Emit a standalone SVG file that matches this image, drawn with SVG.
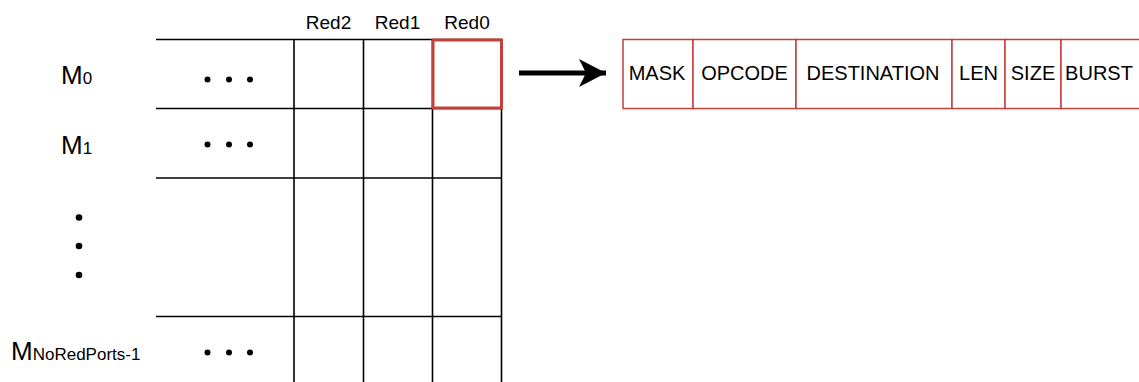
<svg xmlns="http://www.w3.org/2000/svg" width="1139" height="382" viewBox="0 0 1139 382">
  <style>
    text { font-family: "Liberation Sans", Arial, Helvetica, sans-serif; fill: #000; }
    .grid { stroke: #000; stroke-width: 1.6; fill: none; }
    .hdr { font-size: 19px; text-anchor: middle; }
    .row { font-size: 26px; }
    .sub { font-size: 17px; }
    .fld { font-size: 20px; text-anchor: middle; }
    .rec { fill: #fff; stroke: #c4403b; stroke-width: 1.5; }
    .dot { fill: #000; }
  </style>
  <defs>
    <marker id="arrowhead" viewBox="0 0 30 30" refX="27" refY="14" markerWidth="30" markerHeight="30" markerUnits="userSpaceOnUse" orient="auto">
      <path d="M0,0 L27,14 L0,28 L7,14 Z" fill="#000"/>
    </marker>
  </defs>

  <!-- column headers -->
  <g id="headers">
    <text class="hdr" x="328.5" y="29">Red2</text>
    <text class="hdr" x="397.5" y="29">Red1</text>
    <text class="hdr" x="467" y="29">Red0</text>
  </g>

  <!-- row labels -->
  <g id="row-labels">
    <text class="row" x="61" y="83.5">M<tspan class="sub">0</tspan></text>
    <text class="row" x="61" y="153.5">M<tspan class="sub">1</tspan></text>
    <text class="row" x="11" y="359.5">M<tspan class="sub">NoRedPorts-1</tspan></text>
  </g>

  <!-- matrix grid -->
  <g id="matrix">
    <line class="grid" x1="156" y1="39.5" x2="502" y2="39.5"/>
    <line class="grid" x1="156" y1="108.5" x2="502" y2="108.5"/>
    <line class="grid" x1="156" y1="178" x2="502" y2="178"/>
    <line class="grid" x1="156" y1="316.5" x2="502" y2="316.5"/>
    <line class="grid" x1="294" y1="39.5" x2="294" y2="382"/>
    <line class="grid" x1="363.5" y1="39.5" x2="363.5" y2="382"/>
    <line class="grid" x1="432.5" y1="39.5" x2="432.5" y2="382"/>
    <line class="grid" x1="501.5" y1="39.5" x2="501.5" y2="382"/>
  </g>

  <!-- ellipsis markers -->
  <g id="ellipses">
    <circle class="dot" cx="207.5" cy="79.5" r="3"/>
    <circle class="dot" cx="229" cy="79.5" r="3"/>
    <circle class="dot" cx="250" cy="79.5" r="3"/>
    <circle class="dot" cx="207.5" cy="144.5" r="3"/>
    <circle class="dot" cx="229" cy="144.5" r="3"/>
    <circle class="dot" cx="250" cy="144.5" r="3"/>
    <circle class="dot" cx="207.5" cy="352.5" r="3"/>
    <circle class="dot" cx="229" cy="352.5" r="3"/>
    <circle class="dot" cx="250" cy="352.5" r="3"/>
    <circle class="dot" cx="79" cy="217.5" r="3.3"/>
    <circle class="dot" cx="79" cy="246" r="3.3"/>
    <circle class="dot" cx="79" cy="275" r="3.3"/>
  </g>

  <!-- highlighted Red0 cell of M0 -->
  <g id="cell-m0-red0">
    <rect x="433" y="40" width="68.5" height="68" fill="none" stroke="#c4403b" stroke-width="3"/>
  </g>

  <!-- connector -->
  <g id="connectors">
    <line x1="519" y1="73" x2="606" y2="73" stroke="#000" stroke-width="5" marker-end="url(#arrowhead)"/>
  </g>

  <!-- request record fields -->
  <g id="record">
    <rect class="rec" x="623" y="39.5" width="70" height="69"/>
    <rect class="rec" x="693" y="39.5" width="103" height="69"/>
    <rect class="rec" x="796" y="39.5" width="156" height="69"/>
    <rect class="rec" x="952" y="39.5" width="53" height="69"/>
    <rect class="rec" x="1005" y="39.5" width="56" height="69"/>
    <rect class="rec" x="1061" y="39.5" width="82" height="69"/>
    <text class="fld" x="657" y="80">MASK</text>
    <text class="fld" x="744.5" y="80">OPCODE</text>
    <text class="fld" x="873" y="80">DESTINATION</text>
    <text class="fld" x="978.5" y="80">LEN</text>
    <text class="fld" x="1033" y="80">SIZE</text>
    <text class="fld" x="1099" y="80">BURST</text>
  </g>
</svg>
